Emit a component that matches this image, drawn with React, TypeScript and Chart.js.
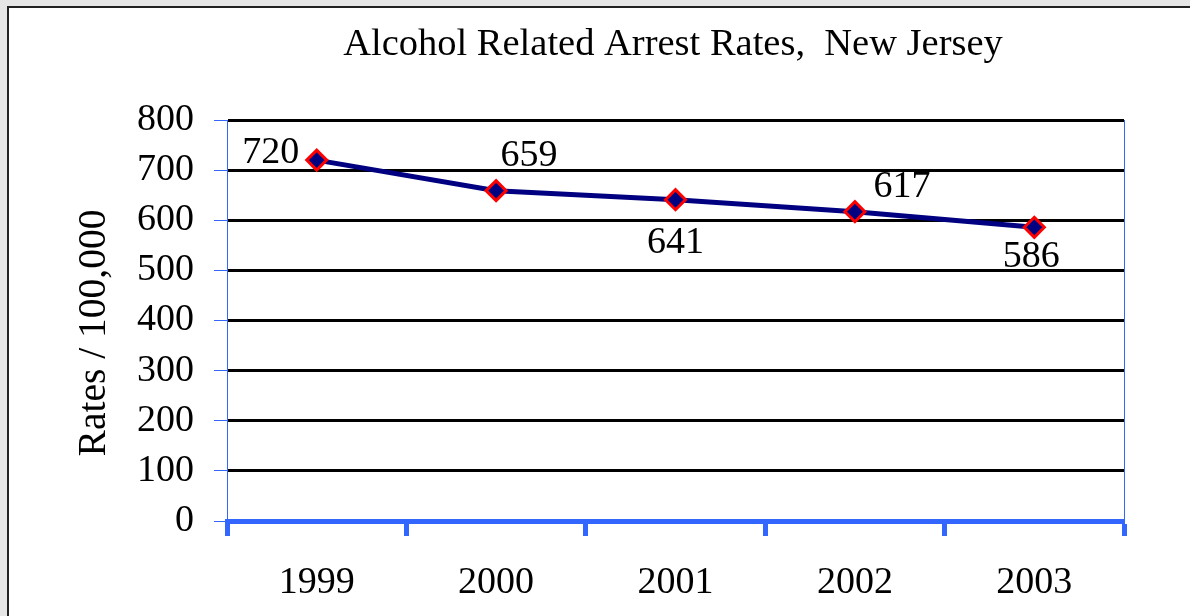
import React, { useEffect, useRef } from "react";
import { Chart, registerables } from "chart.js";

Chart.register(...registerables);

const categories = ["1999", "2000", "2001", "2002", "2003"];
const arrestRates = [720, 659, 641, 617, 586];
const yTicks = [0, 100, 200, 300, 400, 500, 600, 700, 800];
const chartTitle = "Alcohol Related Arrest Rates,  New Jersey";
const yAxisTitle = "Rates / 100,000";
// label placement relative to each point (dx, dy in px)
const labelOffsetX = [-46, 33, 0, 47, -3];
const labelOffsetY = [-7, -35, 43, -25, 30];

const FONT = "'Liberation Serif', 'Times New Roman', serif";
const BLUE = "#3366ff";

const decorPlugin = {
  id: "decor",
  afterDraw(chart: any) {
    const { ctx, chartArea } = chart;
    ctx.save();
    // right border of plot
    ctx.strokeStyle = BLUE;
    ctx.lineWidth = 1;
    ctx.beginPath();
    ctx.moveTo(chartArea.right + 0.5, chartArea.top);
    ctx.lineTo(chartArea.right + 0.5, chartArea.bottom);
    ctx.stroke();
    // title
    ctx.fillStyle = "#000";
    ctx.font = `38.5px ${FONT}`;
    ctx.textAlign = "center";
    ctx.textBaseline = "alphabetic";
    ctx.fillText(chartTitle, 673, 55);
    // y axis title
    ctx.save();
    ctx.translate(105, 333);
    ctx.rotate(-Math.PI / 2);
    ctx.font = `39.5px ${FONT}`;
    ctx.textAlign = "center";
    ctx.textBaseline = "alphabetic";
    ctx.fillText(yAxisTitle, 0, 0);
    ctx.restore();
    // data labels
    const meta = chart.getDatasetMeta(0);
    ctx.font = `38px ${FONT}`;
    ctx.textAlign = "center";
    ctx.textBaseline = "middle";
    meta.data.forEach((pt: any, i: number) => {
      ctx.fillText(String(arrestRates[i]), pt.x + labelOffsetX[i], pt.y + labelOffsetY[i]);
    });
    ctx.restore();
  },
};

export default function App() {
  const ref = useRef<HTMLCanvasElement>(null);
  useEffect(() => {
    if (!ref.current) return;
    const chart = new Chart(ref.current, {
      type: "line",
      data: {
        labels: categories,
        datasets: [
          {
            data: arrestRates,
            borderColor: "#000080",
            borderWidth: 5,
            backgroundColor: "#000080",
            pointStyle: "rectRot",
            pointRadius: 10,
            pointBorderColor: "#ff0000",
            pointBorderWidth: 3,
            pointBackgroundColor: "#000080",
            tension: 0,
          },
        ],
      },
      options: {
        animation: false,
        responsive: false,
        devicePixelRatio: 1,
        layout: { padding: { top: 120, right: 66, left: 0, bottom: 0 } },
        plugins: {
          legend: { display: false },
          title: { display: false },
          tooltip: { enabled: false },
        },
        scales: {
          x: {
            type: "category",
            offset: true,
            afterFit: (s: any) => {
              s.height = 95;
            },
            grid: {
              offset: true,
              drawOnChartArea: false,
              drawTicks: true,
              tickLength: 15,
              tickColor: BLUE,
              tickWidth: 5,
            },
            border: { display: true, color: BLUE, width: 5 },
            ticks: {
              color: "#000",
              font: { family: FONT, size: 38 },
              padding: 24,
              maxRotation: 0,
            },
          },
          y: {
            min: 0,
            max: 800,
            afterFit: (s: any) => {
              s.width = 227;
            },
            afterBuildTicks: (s: any) => {
              s.ticks = yTicks.map((v) => ({ value: v }));
            },
            grid: {
              color: (c: any) => (c.tick && c.tick.value === 0 ? "rgba(0,0,0,0)" : "#000"),
              lineWidth: 3,
              drawTicks: true,
              tickLength: 13,
              tickColor: BLUE,
              tickWidth: 1,
            },
            border: { display: true, color: BLUE, width: 1 },
            ticks: {
              color: "#000",
              font: { family: FONT, size: 38 },
              padding: 20,
            },
          },
        },
      },
      plugins: [decorPlugin],
    });
    return () => chart.destroy();
  }, []);

  return (
    <div style={{ position: "fixed", left: 0, top: 0, width: 1190, height: 616, background: "#e6e6e6", overflow: "hidden" }}>
      <div
        style={{
          position: "absolute",
          left: 7,
          top: 6,
          width: 1220,
          height: 640,
          background: "#fff",
          border: "2px solid #222",
        }}
      />
      <canvas ref={ref} width={1190} height={616} style={{ position: "absolute", left: 0, top: 0, width: 1190, height: 616 }} />
    </div>
  );
}
